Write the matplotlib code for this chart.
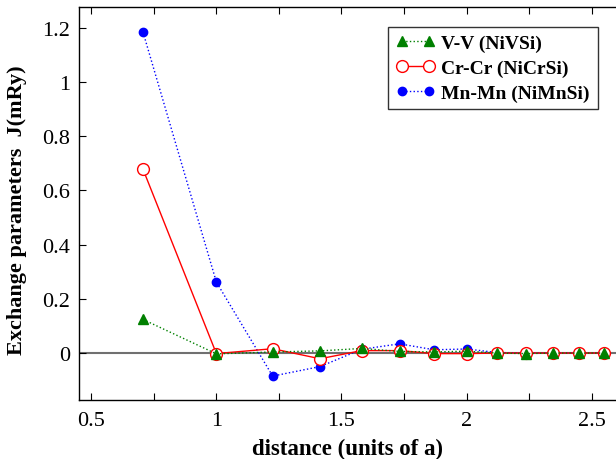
import matplotlib
matplotlib.use("Agg")
import matplotlib.pyplot as plt
from matplotlib.ticker import MultipleLocator, FuncFormatter

distance = [0.707, 1.0, 1.225, 1.414, 1.581, 1.732, 1.871, 2.0, 2.121, 2.236, 2.345, 2.449, 2.55]
j_vv = [0.124, -0.003, 0.004, 0.008, 0.017, 0.006, 0.004, 0.007, 0.0, -0.002, 0.0, 0.0, 0.0]
j_crcr = [0.678, -0.002, 0.016, -0.021, 0.009, 0.009, -0.002, -0.002, 0.0, 0.0, 0.0, 0.0, 0.0]
j_mnmn = [1.184, 0.262, -0.085, -0.05, 0.014, 0.034, 0.012, 0.015, 0.002, 0.0, 0.0, 0.0, 0.0]

plt.rcParams['font.family'] = ['Liberation Serif', 'DejaVu Serif']

fig = plt.figure(figsize=(6.16, 4.6), dpi=100)
ax = fig.add_axes([0.1278, 0.129, 0.8722, 0.853])

ax.axhline(0, color='#707070', lw=1.5, zorder=1)

ax.plot(distance, j_mnmn, ls=':', color='blue', marker='o', ms=6,
        mfc='blue', mec='blue', lw=1.0, zorder=2, label='Mn-Mn (NiMnSi)')
ax.plot(distance, j_crcr, ls='-', color='red', marker='o', ms=8.5,
        mfc='white', mec='red', mew=1.0, lw=1.0, zorder=3, label='Cr-Cr (NiCrSi)')
ax.plot(distance, j_vv, ls=':', color='green', marker='^', ms=7,
        mfc='green', mec='green', lw=1.0, zorder=4, label='V-V (NiVSi)')

ax.set_xlim(0.45, 2.597)
ax.set_ylim(-0.172, 1.276)

ax.xaxis.set_major_locator(MultipleLocator(0.5))
ax.xaxis.set_minor_locator(MultipleLocator(0.25))
ax.yaxis.set_major_locator(MultipleLocator(0.2))
fmt = FuncFormatter(lambda v, p: ('%g' % round(v, 2)))
ax.xaxis.set_major_formatter(fmt)
ax.yaxis.set_major_formatter(fmt)

ax.tick_params(axis='both', which='both', direction='in', top=True, right=False,
               labelsize=16, length=5, width=0.8, pad=6)
ax.tick_params(axis='x', which='major', pad=8)
ax.tick_params(axis='both', which='minor', length=5)
ax.spines['right'].set_visible(False)
for s in ['left', 'bottom', 'top']:
    ax.spines[s].set_linewidth(1.0)

ax.set_xlabel('distance (units of a)', fontsize=16.5, fontweight='bold', labelpad=6)
ax.set_ylabel('Exchange parameters  J(mRy)', fontsize=16, fontweight='bold', labelpad=8)
ax.yaxis.set_label_coords(-0.096, 0.486)

handles, labels = ax.get_legend_handles_labels()
order = [2, 1, 0]
leg = ax.legend([handles[i] for i in order], [labels[i] for i in order],
                loc='upper left', bbox_to_anchor=(0.5757, 0.950), borderaxespad=0,
                prop={'weight': 'bold', 'size': 14}, frameon=True, fancybox=False,
                edgecolor='black', numpoints=2, handlelength=2.03, borderpad=0.4,
                labelspacing=0.36, handletextpad=0.31)
leg.get_frame().set_linewidth(1.0)

fig.savefig('out.png', dpi=100)
